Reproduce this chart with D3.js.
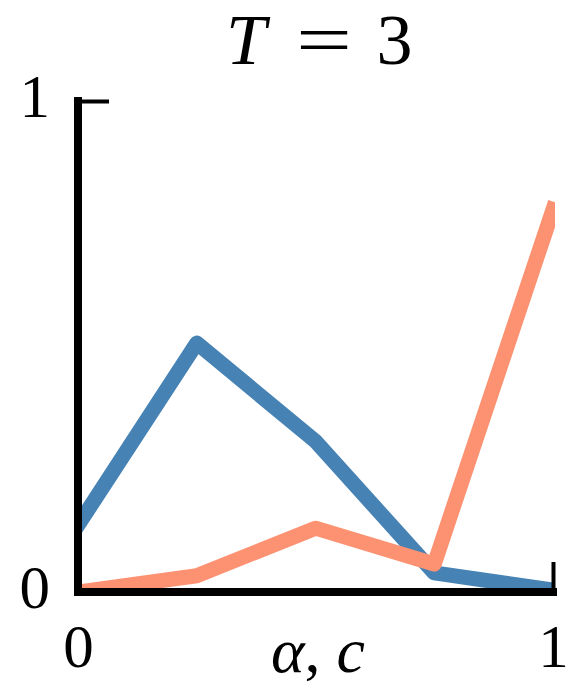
<!DOCTYPE html>
<html>
<head>
<meta charset="utf-8">
<script src="https://cdn.jsdelivr.net/npm/d3@7"></script>
<style>
  body { margin: 0; background: #fff; }
  svg { display: block; }
  text { font-family: "Liberation Serif", "DejaVu Serif", serif; fill: #000; }
</style>
</head>
<body>
<script>
// data
const alphas = [0, 0.25, 0.5, 0.75, 1];
const blueVals = [0.136, 0.507, 0.307, 0.039, 0.004];
const orangeVals = [0, 0.033, 0.13, 0.057, 0.779];
const xTicks = [0, 1];
const yTicks = [0, 1];

var width = 581, height = 698;
var plotLeft = 78, plotRight = 553, plotTop = 101, plotBottom = 592;

var svg = d3.select("body").append("svg")
  .attr("width", width)
  .attr("height", height);

var x = d3.scaleLinear().domain([0, 1]).range([plotLeft, plotRight]);
var y = d3.scaleLinear().domain([0, 1]).range([plotBottom, plotTop]);

svg.append("clipPath").attr("id", "plotclip")
  .append("rect")
  .attr("x", plotLeft).attr("y", plotTop - 20)
  .attr("width", plotRight - plotLeft + 2).attr("height", plotBottom - plotTop + 20);

var line = d3.line()
  .x(function(d, i) { return x(alphas[i]); })
  .y(function(d) { return y(d); });

var lines = svg.append("g").attr("clip-path", "url(#plotclip)");

lines.append("path")
  .datum(blueVals)
  .attr("d", line)
  .attr("fill", "none")
  .attr("stroke", "#4682b4")
  .attr("stroke-width", 15)
  .attr("stroke-linejoin", "round")
  .attr("stroke-linecap", "square");

lines.append("path")
  .datum(orangeVals)
  .attr("d", line)
  .attr("fill", "none")
  .attr("stroke", "#fc9272")
  .attr("stroke-width", 15)
  .attr("stroke-linejoin", "round")
  .attr("stroke-linecap", "square");

// axes: ticks point inwards
var yAxis = svg.append("g")
  .attr("transform", "translate(" + plotLeft + ",0)")
  .call(d3.axisLeft(y).tickValues(yTicks).tickFormat(d3.format("d"))
    .tickSizeInner(-31).tickSizeOuter(0).tickPadding(28));

var xAxis = svg.append("g")
  .attr("transform", "translate(0," + plotBottom + ")")
  .call(d3.axisBottom(x).tickValues(xTicks).tickFormat(d3.format("d"))
    .tickSizeInner(-30).tickSizeOuter(0).tickPadding(0));

svg.selectAll(".domain").remove();
svg.selectAll(".tick line").attr("stroke", "#000").attr("stroke-width", 4);
svg.selectAll(".tick text")
  .attr("font-family", "Liberation Serif")
  .attr("font-size", 61)
  .attr("fill", "#000");
yAxis.selectAll(".tick text").attr("dy", 15.5);
xAxis.selectAll(".tick text").attr("y", 75).attr("dy", 0);

// spines
svg.append("path")
  .attr("d", "M" + plotLeft + "," + plotTop + "V" + plotBottom + "H" + plotRight)
  .attr("fill", "none")
  .attr("stroke", "#000")
  .attr("stroke-width", 8)
  .attr("stroke-linecap", "square")
  .attr("stroke-linejoin", "miter");

// title  T = 3
var titleY = 64, titleSize = 72;
svg.append("text")
  .attr("x", 246).attr("y", titleY)
  .attr("text-anchor", "middle")
  .attr("font-size", titleSize)
  .attr("font-style", "italic")
  .text("T");
svg.append("text")
  .attr("transform", "translate(324," + titleY + ") scale(1.38,1)")
  .attr("text-anchor", "middle")
  .attr("font-size", titleSize)
  .text("=");
svg.append("text")
  .attr("x", 394.5).attr("y", titleY)
  .attr("text-anchor", "middle")
  .attr("font-size", titleSize)
  .text("3");

// x label
var xl = svg.append("text")
  .attr("x", 318).attr("y", 672)
  .attr("text-anchor", "middle")
  .attr("font-size", 64);
xl.append("tspan").attr("font-style", "italic").text("α");
xl.append("tspan").text(", ");
xl.append("tspan").attr("font-style", "italic").text("c");
</script>
</body>
</html>
